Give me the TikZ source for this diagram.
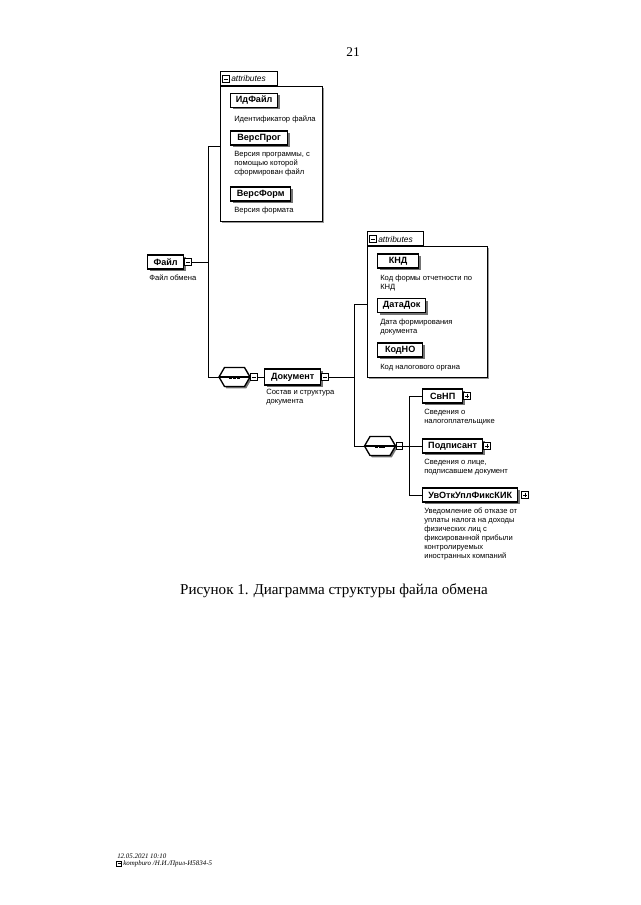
\documentclass[tikz,border=0pt]{standalone}
\usepackage{fontspec}
\setmainfont{Liberation Serif}
\newfontfamily\diafont{Liberation Sans}
\usetikzlibrary{shadows}

\begin{document}
\begin{tikzpicture}[x=0.75pt,y=0.75pt,yscale=-1,xscale=1,
  tree/.style={line width=0.6pt},
  shade box/.style={drop shadow={shadow xshift=1.5pt,shadow yshift=-1.5pt,fill=black!55,opacity=1}},
  elem/.style={draw,line width=1pt,fill=white,shade box,anchor=west,align=center,
    text width=#1,inner xsep=3pt,inner ysep=0pt,minimum height=10.5pt,
    font=\diafont\bfseries\fontsize{6.8}{7.5}\selectfont},
  desc/.style={anchor=north west,align=left,inner sep=0pt,
    font=\diafont\fontsize{5.7}{6.75}\selectfont},
  minus box/.style={draw,line width=0.5pt,fill=white,minimum size=5.2pt,inner sep=0pt,
    path picture={\draw[line width=0.5pt,shorten <=0.9pt,shorten >=0.9pt]
      (path picture bounding box.west) -- (path picture bounding box.east);}},
  plus box/.style={draw,line width=0.5pt,fill=white,minimum size=5.2pt,inner sep=0pt,
    path picture={\draw[line width=0.5pt,shorten <=0.9pt,shorten >=0.9pt]
      (path picture bounding box.west) -- (path picture bounding box.east);
      \draw[line width=0.5pt,shorten <=0.9pt,shorten >=0.9pt]
      (path picture bounding box.north) -- (path picture bounding box.south);}},
  seqsym/.pic={
    \fill[black!55] (-13.7,-1.8) -- (-8.2,7.7) -- (11.8,7.7) -- (17.3,-1.8) -- (11.8,-11.3) -- (-8.2,-11.3) -- cycle;
    \draw[line width=1pt,fill=white] (-15.5,0) -- (-10,-9.5) -- (10,-9.5) -- (15.5,0) -- (10,9.5) -- (-10,9.5) -- cycle;
    \draw[line width=0.8pt] (-15.5,0) -- (15.5,0);
    \foreach \d in {-3.8,0,3.8}
      \fill (\d-1.5,-1.5) rectangle (\d+1.5,1.5);
    \coordinate (-w) at (-15.5,0);
    \coordinate (-e) at (15.5,0);},
  attrs/.style={draw,line width=0.7pt,fill=white,anchor=north west,inner sep=0pt,
    drop shadow={shadow xshift=0.8pt,shadow yshift=-0.8pt,fill=black!40,opacity=1}},
  tab/.style={draw,line width=0.7pt,fill=white,anchor=south west,inner sep=0pt,minimum height=10.5pt},
  tabtext/.style={anchor=west,inner sep=0pt,font=\diafont\itshape\fontsize{6.3}{7}\selectfont}
]
\useasboundingbox (0,0) rectangle (640,905);

% page number
\node[font=\fontsize{10}{12}\selectfont] (pagenum) at (353,52) {21};

%Shape: Element Файл
\node[elem=21pt] (fajl) at (147,262) {Файл};
\node[minus box,anchor=west] (fajlS) at (fajl.east) {};
\node[desc] (fajlD) at (149,275) {Файл обмена};

%Shape: Attributes of Файл
\node[attrs,minimum width=76.5pt,minimum height=101.25pt] (attrA) at (220,86) {};
\node[tab,minimum width=42.75pt] (tabA) at (attrA.north west) {};
\node[minus box] (tabAS) at (226,79) {};
\node[tabtext] (tabAT) at (231,79) {attributes};

\node[elem=29.25pt] (idfajl) at (230,100.5) {ИдФайл};
\node[desc] (idfajlD) at (234,116) {Идентификатор файла};
\node[elem=36.75pt] (versprog) at (230,138) {ВерсПрог};
\node[desc] (versprogD) at (234,151) {Версия программы, с\\помощью которой\\сформирован файл};
\node[elem=39pt] (versform) at (230,194) {ВерсФорм};
\node[desc] (versformD) at (234,207) {Версия формата};

%Shape: Sequence of Файл
\pic (seqA) at (234.5,377) {seqsym};
\node[minus box,anchor=west] (seqAS) at (seqA-e) {};

%Shape: Element Документ
\node[elem=36pt,minimum height=12pt] (dok) at (264,377) {Документ};
\node[minus box,anchor=west] (dokS) at (dok.east) {};
\node[desc] (dokD) at (266,389) {Состав и структура\\документа};

%Straight Lines: tree of Файл
\coordinate (jF) at (208,262);
\coordinate (jA) at (208,146);
\coordinate (jD) at (208,377);
\draw[tree] (fajlS.east) -- (jF);
\draw[tree] (jA -| attrA.west) -- (jA) -- (jD) -- (seqA-w);
\draw[tree] (seqAS.east) -- (dok.west);

%Shape: Attributes of Документ
\node[attrs,minimum width=90pt,minimum height=98.25pt] (attrB) at (367,246) {};
\node[tab,minimum width=42pt] (tabB) at (attrB.north west) {};
\node[minus box] (tabBS) at (373,239) {};
\node[tabtext] (tabBT) at (378,239) {attributes};

\node[elem=24.75pt] (knd) at (377,261) {КНД};
\node[desc] (kndD) at (380,275) {Код формы отчетности по\\КНД};
\node[elem=30pt] (datadok) at (377,305.5) {ДатаДок};
\node[desc] (datadokD) at (380,319) {Дата формирования\\документа};
\node[elem=27.75pt] (kodno) at (377,350) {КодНО};
\node[desc] (kodnoD) at (380,364) {Код налогового органа};

%Shape: Sequence of Документ
\pic (seqB) at (380,446) {seqsym};
\node[minus box,anchor=west] (seqBS) at (seqB-e) {};

\node[elem=24pt] (svnp) at (422,396) {СвНП};
\node[plus box,anchor=west] (svnpS) at (svnp.east) {};
\node[desc] (svnpD) at (424,409) {Сведения о\\налогоплательщике};
\node[elem=39pt] (podp) at (422,446) {Подписант};
\node[plus box,anchor=west] (podpS) at (podp.east) {};
\node[desc] (podpD) at (424,459) {Сведения о лице,\\подписавшем документ};
\node[elem=65.25pt] (uvotk) at (422,495) {УвОткУплФиксКИК};
\node[plus box,anchor=west] (uvotkS) at ([xshift=2.25pt]uvotk.east) {};
\node[desc] (uvotkD) at (424,508) {Уведомление об отказе от\\уплаты налога на доходы\\физических лиц с\\фиксированной прибыли\\контролируемых\\иностранных компаний};

%Straight Lines: tree of Документ
\coordinate (jK) at (354,377);
\coordinate (jB) at (354,304);
\coordinate (jS) at (354,446);
\coordinate (jC) at (409,446);
\draw[tree] (dokS.east) -- (jK);
\draw[tree] (jB -| attrB.west) -- (jB) -- (jS) -- (seqB-w);
\draw[tree] (seqBS.east) -- (jC);
\draw[tree] (svnp.west) -- (svnp.west -| jC) -- (uvotk.west -| jC) -- (uvotk.west);
\draw[tree] (jC) -- (podp.west);

% caption
\node[font=\fontsize{11.3}{13}\selectfont] (caption) at (334,591) {Рисунок 1. Диаграмма структуры файла обмена};

% footer
\node[anchor=west,inner sep=0pt,font=\itshape\fontsize{5.2}{6}\selectfont] (stamp) at (117,856) {12.05.2021 10:10};
\draw[line width=0.3pt] (116.5,861) rectangle (121.5,866);
\draw[line width=0.3pt] (117.5,863.5) -- (120.5,863.5);
\node[anchor=west,inner sep=0pt,font=\itshape\fontsize{5.2}{6}\selectfont] (stampfile) at (123,864) {kompburo /Н.И./Прил-И5834-5};
\end{tikzpicture}
\end{document}
